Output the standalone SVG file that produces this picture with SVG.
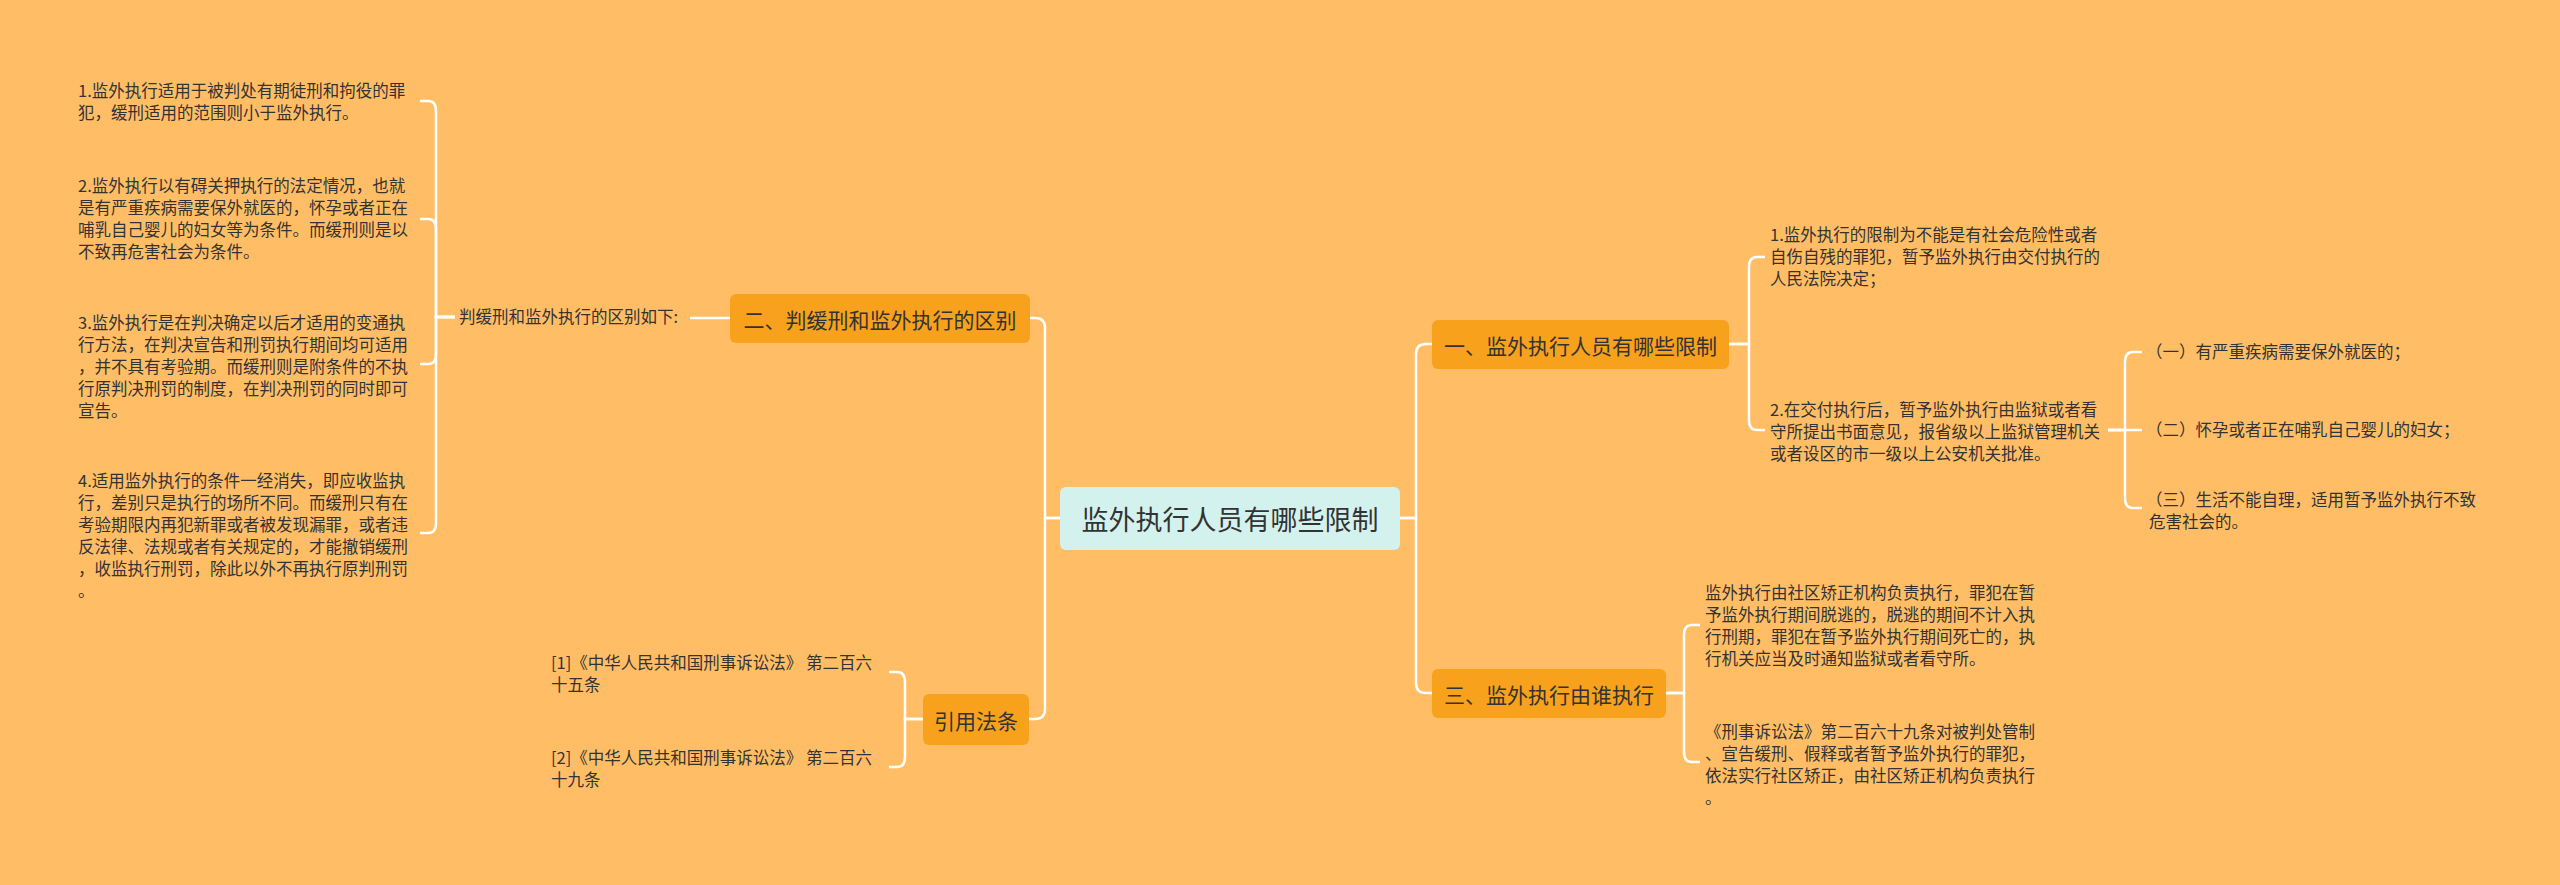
<svg xmlns="http://www.w3.org/2000/svg" width="2560" height="885" viewBox="0 0 2560 885">
<style>
text{font-family:"Noto Sans CJK SC","Liberation Sans",sans-serif;fill:#333}
.s{font-size:16.5px}
.b{font-size:21px;text-anchor:middle;dominant-baseline:central}
.c{fill:none;stroke:#fff;stroke-width:2.5}
.o{fill:#f7a11c}
</style>
<rect width="2560" height="885" fill="#ffbe66"/>
<g id="connectors" class="c">
<path d="M1060,518 H1045 V328 Q1045,318 1035,318 H1030"/>
<path d="M1060,518 H1045 V709 Q1045,719 1035,719 H1029"/>
<path d="M1400,518 H1416 V354 Q1416,344 1426,344 H1432"/>
<path d="M1400,518 H1416 V683 Q1416,693 1426,693 H1432"/>
<path d="M730,318 H690"/>
<path d="M455,317 H436 V111 Q436,101 428,101 H420"/>
<path d="M455,317 H436 V229 Q436,219 428,219 H420"/>
<path d="M455,317 H436 V354 Q436,364 428,364 H420"/>
<path d="M455,317 H436 V523 Q436,533 428,533 H420"/>
<path d="M1729,344 H1749 V267 Q1749,257 1757,257 H1765"/>
<path d="M1729,344 H1749 V420 Q1749,430 1757,430 H1765"/>
<path d="M2108,430 H2125 V362 Q2125,352 2133,352 H2142"/>
<path d="M2108,430 H2142"/>
<path d="M2108,430 H2125 V498 Q2125,508 2133,508 H2142"/>
<path d="M1666,693 H1684 V635 Q1684,625 1692,625 H1700"/>
<path d="M1666,693 H1684 V752 Q1684,762 1692,762 H1700"/>
<path d="M923,719 H905 V682 Q905,672 897,672 H889"/>
<path d="M923,719 H905 V757 Q905,767 897,767 H889"/>
</g>
<g id="center"><rect x="1060" y="487" width="340" height="63" rx="6" fill="#d3f2ee"/><text x="1230" y="518.5" style="font-size:27px;text-anchor:middle;dominant-baseline:central">监外执行人员有哪些限制</text></g>
<g id="n1"><rect class="o" x="1432" y="320" width="297" height="49" rx="6"/><text class="b" x="1580.5" y="344.5">一、监外执行人员有哪些限制</text></g>
<g id="n3"><rect class="o" x="1432" y="669" width="234" height="49" rx="6"/><text class="b" x="1549" y="693.5">三、监外执行由谁执行</text></g>
<g id="n2"><rect class="o" x="730" y="294" width="300" height="49" rx="6"/><text class="b" x="880" y="318.5">二、判缓刑和监外执行的区别</text></g>
<g id="n4"><rect class="o" x="923" y="694" width="106" height="51" rx="6"/><text class="b" x="976" y="719.5">引用法条</text></g>
<g id="lbl"><text class="s" x="459" y="323">判缓刑和监外执行的区别如下:</text></g>
<g id="l1" class="s"><text class="s" x="78" y="97">1.监外执行适用于被判处有期徒刑和拘役的罪</text><text class="s" x="78" y="119">犯，缓刑适用的范围则小于监外执行。</text></g>
<g id="l2"><text class="s" x="78" y="192">2.监外执行以有碍关押执行的法定情况，也就</text><text class="s" x="78" y="214">是有严重疾病需要保外就医的，怀孕或者正在</text><text class="s" x="78" y="236">哺乳自己婴儿的妇女等为条件。而缓刑则是以</text><text class="s" x="78" y="258">不致再危害社会为条件。</text></g>
<g id="l3"><text class="s" x="78" y="329">3.监外执行是在判决确定以后才适用的变通执</text><text class="s" x="78" y="351">行方法，在判决宣告和刑罚执行期间均可适用</text><text class="s" x="78" y="373">，并不具有考验期。而缓刑则是附条件的不执</text><text class="s" x="78" y="395">行原判决刑罚的制度，在判决刑罚的同时即可</text><text class="s" x="78" y="417">宣告。</text></g>
<g id="l4"><text class="s" x="78" y="487">4.适用监外执行的条件一经消失，即应收监执</text><text class="s" x="78" y="509">行，差别只是执行的场所不同。而缓刑只有在</text><text class="s" x="78" y="531">考验期限内再犯新罪或者被发现漏罪，或者违</text><text class="s" x="78" y="553">反法律、法规或者有关规定的，才能撤销缓刑</text><text class="s" x="78" y="575">，收监执行刑罚，除此以外不再执行原判刑罚</text><text class="s" x="78" y="597">。</text></g>
<g id="r1"><text class="s" x="1770" y="241">1.监外执行的限制为不能是有社会危险性或者</text><text class="s" x="1770" y="263">自伤自残的罪犯，暂予监外执行由交付执行的</text><text class="s" x="1770" y="285">人民法院决定；</text></g>
<g id="r2"><text class="s" x="1770" y="416">2.在交付执行后，暂予监外执行由监狱或者看</text><text class="s" x="1770" y="438">守所提出书面意见，报省级以上监狱管理机关</text><text class="s" x="1770" y="460">或者设区的市一级以上公安机关批准。</text></g>
<g id="s1"><text class="s" x="2146" y="358">（一）有严重疾病需要保外就医的；</text></g>
<g id="s2"><text class="s" x="2146" y="436">（二）怀孕或者正在哺乳自己婴儿的妇女；</text></g>
<g id="s3"><text class="s" x="2146" y="506">（三）生活不能自理，适用暂予监外执行不致</text><text class="s" x="2149" y="528">危害社会的。</text></g>
<g id="t1"><text class="s" x="1705" y="599">监外执行由社区矫正机构负责执行，罪犯在暂</text><text class="s" x="1705" y="621">予监外执行期间脱逃的，脱逃的期间不计入执</text><text class="s" x="1705" y="643">行刑期，罪犯在暂予监外执行期间死亡的，执</text><text class="s" x="1705" y="665">行机关应当及时通知监狱或者看守所。</text></g>
<g id="t2"><text class="s" x="1705" y="738">《刑事诉讼法》第二百六十九条对被判处管制</text><text class="s" x="1705" y="760">、宣告缓刑、假释或者暂予监外执行的罪犯，</text><text class="s" x="1705" y="782">依法实行社区矫正，由社区矫正机构负责执行</text><text class="s" x="1705" y="804">。</text></g>
<g id="c1"><text class="s" x="551" y="669">[1]《中华人民共和国刑事诉讼法》 第二百六</text><text class="s" x="551" y="691">十五条</text></g>
<g id="c2"><text class="s" x="551" y="764">[2]《中华人民共和国刑事诉讼法》 第二百六</text><text class="s" x="551" y="786">十九条</text></g>
</svg>
